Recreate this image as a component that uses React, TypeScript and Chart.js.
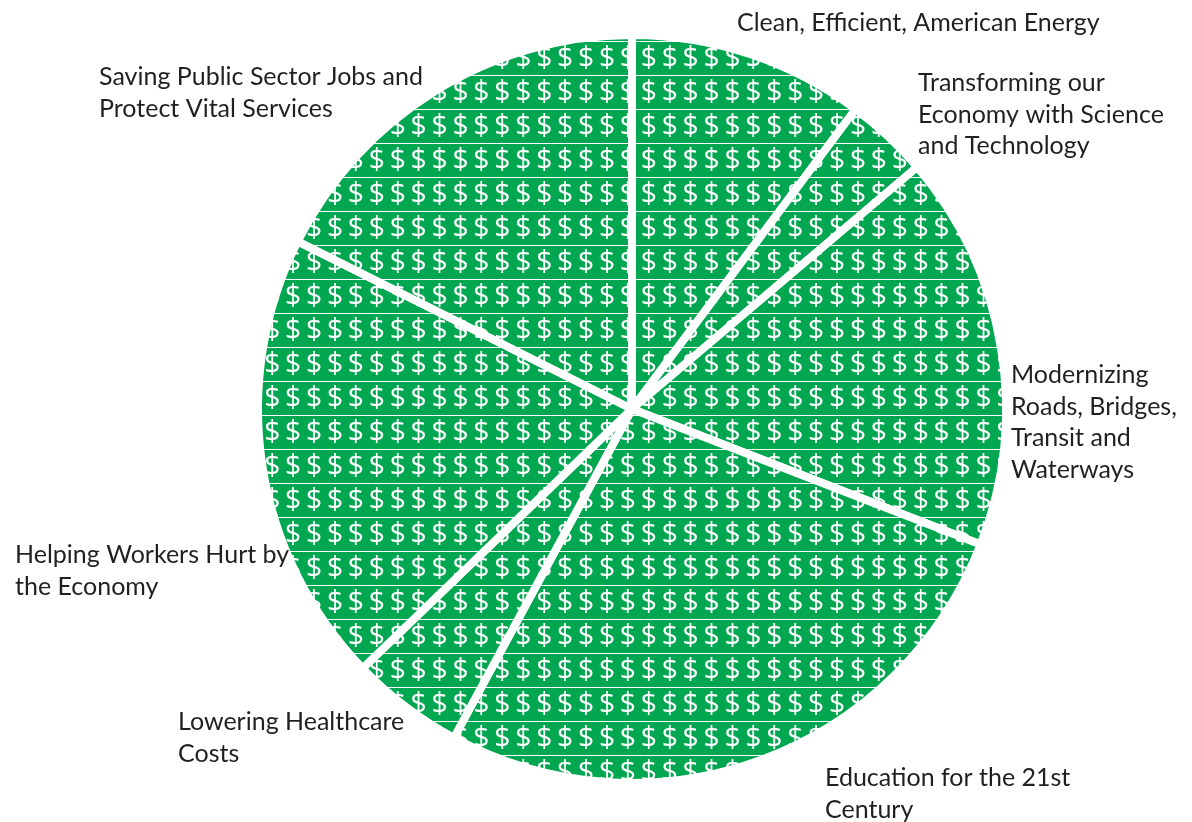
import { useEffect, useRef } from "react";
import { Chart, registerables } from "chart.js";

Chart.register(...registerables);

// ---- data ----
const categories = [
  "Clean, Efficient, American Energy",
  "Transforming our Economy with Science and Technology",
  "Modernizing Roads, Bridges, Transit and Waterways",
  "Education for the 21st Century",
  "Lowering Healthcare Costs",
  "Helping Workers Hurt by the Economy",
  "Saving Public Sector Jobs and Protect Vital Services",
];
const shares = [10.2, 3.6, 17.1, 27.0, 4.9, 19.6, 17.6];
const labelLines = [
  ["Clean, Efficient, American Energy"],
  ["Transforming our", "Economy with Science", "and Technology"],
  ["Modernizing", "Roads, Bridges,", "Transit and", "Waterways"],
  ["Education for the 21st", "Century"],
  ["Lowering Healthcare", "Costs"],
  ["Helping Workers Hurt by", "the Economy"],
  ["Saving Public Sector Jobs and", "Protect Vital Services"],
];

// ---- layout / style ----
const labelPos: [number, number][] = [
  [737, 31],
  [918, 91],
  [1011, 383],
  [825, 786],
  [178, 730],
  [15, 563],
  [99, 85],
];
const LINE_H = 31.5;
const LABEL_FONT = '25px Lato, "Noto Sans", sans-serif';
const GREEN = "#00a650";

function makeDollarPattern(): CanvasPattern | string {
  const cols = 25;
  const colW = 20.92;
  const rowH = 34;
  const w = Math.round(cols * colW);
  const c = document.createElement("canvas");
  c.width = w;
  c.height = rowH;
  const g = c.getContext("2d");
  if (!g) return GREEN;
  g.fillStyle = GREEN;
  g.fillRect(0, 0, w, rowH);
  g.fillStyle = "#ffffff";
  g.fillRect(0, 7, w, 1);
  g.font = '100px "Open Sans", sans-serif';
  const m = g.measureText("$");
  const h100 = m.actualBoundingBoxAscent + m.actualBoundingBoxDescent;
  const size = (23.5 * 100) / (h100 || 88);
  g.font = `${size}px "Open Sans", sans-serif`;
  const mm = g.measureText("$");
  const asc = mm.actualBoundingBoxAscent;
  const desc = mm.actualBoundingBoxDescent;
  const cy = 23;
  const baseline = cy + (asc - desc) / 2;
  g.textAlign = "center";
  g.textBaseline = "alphabetic";
  for (let k = -1; k <= cols; k++) {
    const x = 0.3 + k * colW;
    g.fillText("$", x, baseline);
    g.fillText("$", x, baseline - rowH);
  }
  const p = g.createPattern(c, "repeat");
  return p || GREEN;
}

const labelPlugin = {
  id: "sideLabels",
  afterDraw(chart: any) {
    const ctx = chart.ctx as CanvasRenderingContext2D;
    ctx.save();
    ctx.font = LABEL_FONT;
    ctx.fillStyle = "#231f20";
    ctx.textAlign = "left";
    ctx.textBaseline = "alphabetic";
    labelLines.forEach((lines, i) => {
      const [x, y] = labelPos[i];
      lines.forEach((t, j) => ctx.fillText(t, x, y + j * LINE_H));
    });
    ctx.restore();
  },
};

export default function App() {
  const ref = useRef<HTMLCanvasElement | null>(null);
  useEffect(() => {
    if (!ref.current) return;
    const pattern = makeDollarPattern();
    const chart = new Chart(ref.current, {
      type: "pie",
      data: {
        labels: categories,
        datasets: [
          {
            data: shares,
            backgroundColor: categories.map(() => pattern),
            borderColor: "#ffffff",
            borderWidth: 8,
            hoverBorderWidth: 8,
            hoverOffset: 0,
            offset: 0,
          },
        ],
      },
      options: {
        responsive: false,
        animation: false,
        events: [],
        layout: { padding: { left: 254, right: 182, top: 31, bottom: 35 } },
        plugins: {
          legend: { display: false },
          tooltip: { enabled: false },
        },
      },
      plugins: [labelPlugin],
    });
    return () => chart.destroy();
  }, []);
  return (
    <div style={{ position: "fixed", left: 0, top: 0, width: 1192, height: 822, background: "#fff" }}>
      <canvas ref={ref} width={1192} height={822} style={{ display: "block", width: 1192, height: 822 }} />
    </div>
  );
}
